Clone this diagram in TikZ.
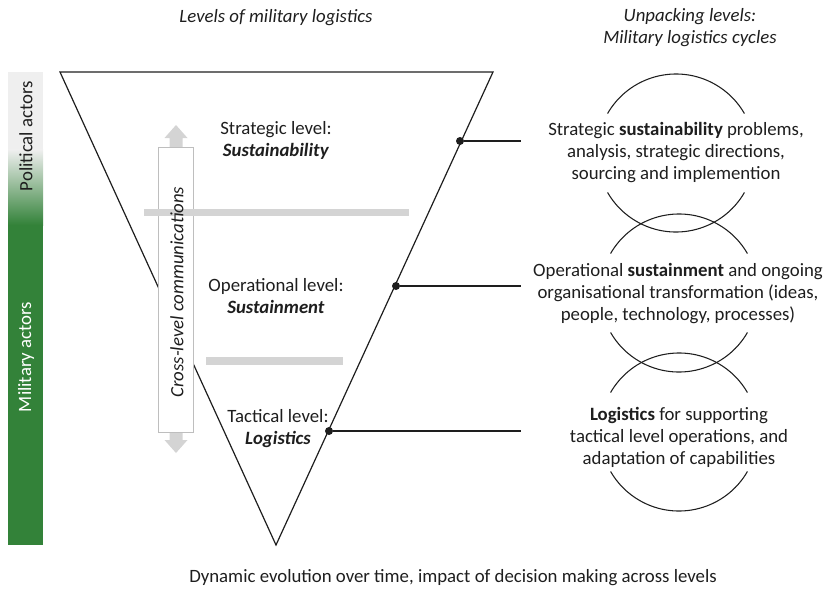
\documentclass[tikz,border=0pt]{standalone}
\usepackage{fontspec}
\setmainfont{Carlito}
\definecolor{milgreen}{RGB}{51,130,57}
\definecolor{polgray}{RGB}{239,239,239}
\definecolor{bargray}{RGB}{212,212,212}
\definecolor{boxgray}{RGB}{190,190,190}
\definecolor{ink}{RGB}{30,30,30}
\tikzset{
  txt/.style={font=\fontsize{14.1}{16.5}\selectfont, text=ink, align=center, inner sep=0pt},
  lvl/.style={txt},
  edge/.style={draw=ink, line width=0.9pt},
  dot/.style={circle, fill=ink, inner sep=0pt, minimum size=6pt},
  cyc/.style={draw=ink, line width=0.8pt},
  gbar/.style={fill=bargray},
}
\begin{document}
\begin{tikzpicture}[x=0.75pt,y=-0.75pt]
\useasboundingbox (0,0) rectangle (829,590);
% actor bar
\fill[polgray] (8,72) rectangle (43,150);
\shade[top color=polgray, bottom color=milgreen] (8,149.5) rectangle (43,225);
\fill[milgreen] (8,224.5) rectangle (43,545);
\node[txt, rotate=90] (pol) at (26,136) {Political actors};
\node[txt, rotate=90, text=white] (mil) at (26,357) {Military actors};
% titles
\node[txt] (t1) at (276,18) {\itshape Levels of military logistics};
\node[txt] (t2) at (690,28) {\itshape Unpacking levels:\\ \itshape Military logistics cycles};
\node[txt] (bot) at (453,578) {Dynamic evolution over time, impact of decision making across levels};
% triangle
\coordinate (tl) at (60,72);
\coordinate (tr) at (493,72);
\coordinate (tb) at (276,545);
\draw[edge, line join=miter] (tl) -- (tr) -- (tb) -- cycle;
% cross-level arrow
\fill[bargray] (176,125) -- (187.5,138) -- (182.5,138) -- (182.5,440) -- (187.5,440) -- (176,453)
  -- (164.5,440) -- (169.5,440) -- (169.5,138) -- (164.5,138) -- cycle;
\node[draw=boxgray, fill=white, line width=0.6pt, rotate=90, minimum width=213.75pt, minimum height=26.25pt, inner sep=0pt] (comm) at (175.5,289.5) {};
% level bars
\fill[gbar] (144,208.5) rectangle (409,216);
\fill[gbar] (206,357) rectangle (343,364.5);
\node[txt, rotate=90] (commtxt) at (177,292) {\itshape Cross-level communications};
% level labels
\node[lvl] (strat) at (276,140) {Strategic level:\\ \textbf{\textit{Sustainability}}};
\node[lvl] (oper) at (276,296) {Operational level:\\ \textbf{\textit{Sustainment}}};
\node[lvl] (tact) at (278,429) {Tactical level:\\ \textbf{\textit{Logistics}}};
% dots and connectors
\node[dot] (d1) at (460,141) {};
\node[dot] (d2) at (396,286) {};
\node[dot] (d3) at (329,431) {};
\coordinate (e1) at (521,141);
\coordinate (e2) at (521,286);
\coordinate (e3) at (521,431);
\draw[edge] (d1) -- (e1);
\draw[edge] (d2) -- (e2);
\draw[edge] (d3) -- (e3);
% cycles
\foreach \n/\cx/\cy in {1/676/153, 2/679/293, 3/679/432}{
  \draw[cyc] (\cx,\cy) ++(30:79) arc[start angle=30, end angle=150, radius=79];
  \draw[cyc] (\cx,\cy) ++(210:79) arc[start angle=210, end angle=330, radius=79];
}
\node[txt] (c1) at (676,153) {Strategic \textbf{sustainability} problems,\\ analysis, strategic directions,\\ sourcing and implemention};
\node[txt] (c2) at (678,294) {Operational \textbf{sustainment} and ongoing\\ organisational transformation (ideas,\\ people, technology, processes)};
\node[txt] (c3) at (679,437) {\textbf{Logistics} for supporting\\ tactical level operations, and\\ adaptation of capabilities};
\end{tikzpicture}
\end{document}
